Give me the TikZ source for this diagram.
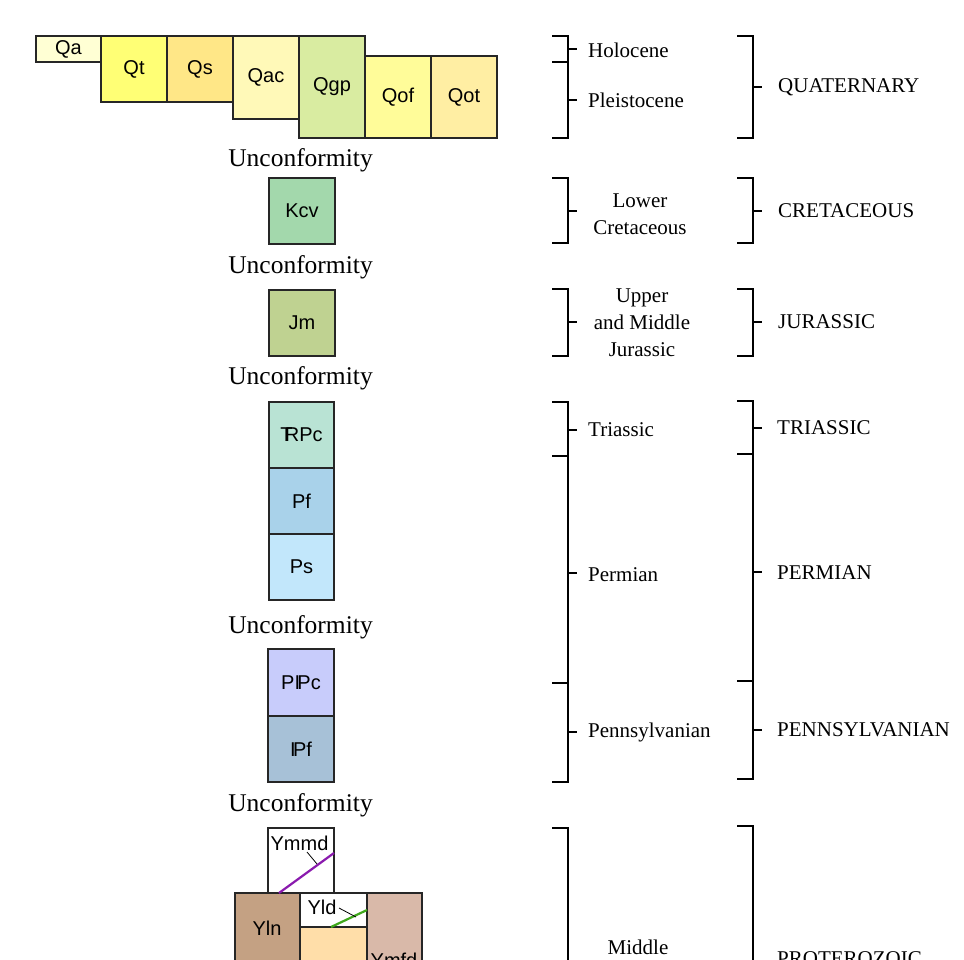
\documentclass[tikz,border=0pt]{standalone}
\usepackage{fontspec}
\setmainfont{Liberation Serif}
\newfontfamily\arialfont{Liberation Sans}

% map unit colours
\definecolor{qacol}{HTML}{FFFFD4}
\definecolor{qtcol}{HTML}{FFFF75}
\definecolor{qscol}{HTML}{FFE787}
\definecolor{qaccol}{HTML}{FFF9B8}
\definecolor{qgpcol}{HTML}{D9ECA1}
\definecolor{qofcol}{HTML}{FFFC99}
\definecolor{qotcol}{HTML}{FFEEA3}
\definecolor{kcvcol}{HTML}{A3D8AC}
\definecolor{jmcol}{HTML}{BFD291}
\definecolor{trpccol}{HTML}{B9E3D4}
\definecolor{pfcol}{HTML}{A9D2EA}
\definecolor{pscol}{HTML}{C2E7FB}
\definecolor{ppccol}{HTML}{C8CCFB}
\definecolor{ipfcol}{HTML}{A7C1D7}
\definecolor{ylncol}{HTML}{C4A183}
\definecolor{ylowcol}{HTML}{FFDEA9}
\definecolor{ymfdcol}{HTML}{D9B9A9}
\definecolor{dikeviolet}{HTML}{8A1AAE}
\definecolor{dikegreen}{HTML}{3FA81C}

% age symbols
\newcommand{\trsym}{T\kern-0.38em R}
\newcommand{\ipsym}{I\kern-0.13em P}

\tikzset{
  unit/.style={draw=black!85, line width=1.1pt, inner sep=0pt,
    font=\arialfont\fontsize{20}{24}\selectfont},
  unitlabel/.style={inner sep=0pt, font=\arialfont\fontsize{20}{24}\selectfont},
  uncon/.style={inner sep=0pt, font=\fontsize{25.5}{30}\selectfont},
  epoch/.style={inner sep=0pt, font=\fontsize{21}{27}\selectfont},
  brk/.style={line width=1.3pt},
  contact/.style={line width=2.2pt}
}

\begin{document}
\begin{tikzpicture}[x=1pt, y=-1pt]
\useasboundingbox (0,0) rectangle (964,959);
\clip (0,0) rectangle (964,959);

% Quaternary units
\node[unit, fill=qacol, minimum width=65pt, minimum height=26pt] (qa) at (68.5,49) {Qa};
\node[unit, fill=qtcol, minimum width=66pt, minimum height=66pt] (qt) at (134,69) {Qt};
\node[unit, fill=qscol, minimum width=66pt, minimum height=66pt] (qs) at (200,69) {Qs};
\node[unit, fill=qaccol, minimum width=66pt, minimum height=83pt] (qac) at (266,77.5) {Qac};
\node[unit, fill=qgpcol, minimum width=66pt, minimum height=102pt] (qgp) at (332,87) {Qgp};
\node[unit, fill=qofcol, minimum width=66pt, minimum height=82pt] (qof) at (398,97) {Qof};
\node[unit, fill=qotcol, minimum width=66pt, minimum height=82pt] (qot) at (464,97) {Qot};

\node[uncon] (uc1) at (300.5,160) {Unconformity};

% Cretaceous and Jurassic
\node[unit, fill=kcvcol, minimum width=66pt, minimum height=66pt] (kcv) at (302,211) {Kcv};
\node[uncon] (uc2) at (300.5,267) {Unconformity};
\node[unit, fill=jmcol, minimum width=66pt, minimum height=66pt] (jm) at (302,323) {Jm};
\node[uncon] (uc3) at (300.5,378) {Unconformity};

% Triassic and Permian
\node[unit, fill=trpccol, minimum width=65pt, minimum height=66pt] (trpc) at (301.5,435) {\trsym Pc};
\node[unit, fill=pfcol, minimum width=65pt, minimum height=66pt] (pf) at (301.5,501) {Pf};
\node[unit, fill=pscol, minimum width=65pt, minimum height=66pt] (ps) at (301.5,567) {Ps};
\node[uncon] (uc4) at (300.5,627) {Unconformity};

% Pennsylvanian
\node[unit, fill=ppccol, minimum width=66pt, minimum height=67pt] (ppc) at (301,682.5) {P\ipsym c};
\node[unit, fill=ipfcol, minimum width=66pt, minimum height=66pt] (ipf) at (301,749) {\ipsym f};
\node[uncon] (uc5) at (300.5,805) {Unconformity};

% Middle Proterozoic
\node[unit, fill=white, minimum width=66pt, minimum height=65pt] (ymmd) at (301,860.5) {};
\node[unit, fill=ylncol, minimum width=65pt, minimum height=107pt] (yln) at (267.5,946.5) {};
\node[unit, fill=white, minimum width=67pt, minimum height=34pt] (yld) at (333.5,910) {};
\node[unit, fill=ylowcol, minimum width=67pt, minimum height=73pt] (ylow) at (333.5,963.5) {};
\node[unit, fill=ymfdcol, minimum width=55pt, minimum height=107pt] (ymfd) at (394.5,946.5) {};
\draw[contact, dikeviolet] (279,893) -- (334,853);
\draw[contact, dikegreen] (331,927) -- (367,910);
\node[unitlabel] (ymmdlab) at (299.5,843) {Ymmd};
\node[unitlabel] (ylnlab) at (267,928) {Yln};
\node[unitlabel] (yldlab) at (322,907) {Yld};
\node[unitlabel] (ymfdlab) at (394,960) {Ymfd};
\coordinate (ymmdfoot) at (307,852);
\coordinate (ymmdtip) at (317,864);
\coordinate (yldfoot) at (339,908);
\coordinate (yldtip) at (356,917);
\draw[line width=0.8pt] (ymmdfoot) -- (ymmdtip);
\draw[line width=0.8pt] (yldfoot) -- (yldtip);

% epoch brackets
\draw[brk] (552,36) -| (568,138) -- (552,138);
\draw[brk] (552,62) -- (568,62);
\draw[brk] (568,49) -- (577,49);
\draw[brk] (568,100) -- (577,100);
\draw[brk] (552,178) -| (568,243) -- (552,243);
\draw[brk] (568,211) -- (577,211);
\draw[brk] (552,289) -| (568,356) -- (552,356);
\draw[brk] (568,322) -- (577,322);
\draw[brk] (552,402) -| (568,782) -- (552,782);
\draw[brk] (552,456) -- (568,456);
\draw[brk] (552,683) -- (568,683);
\draw[brk] (568,430) -- (577,430);
\draw[brk] (568,573) -- (577,573);
\draw[brk] (568,732) -- (577,732);
\draw[brk] (552,828) -| (568,1000);

\node[epoch, anchor=west] (holo) at (588,50) {Holocene};
\node[epoch, anchor=west] (pleist) at (588,100) {Pleistocene};
\node[epoch, align=center] (lcret) at (640,214) {Lower\\Cretaceous};
\node[epoch, align=center] (umjur) at (642,323) {Upper\\and Middle\\Jurassic};
\node[epoch, anchor=west] (trias) at (588,430) {Triassic};
\node[epoch, anchor=west] (perm) at (588,575) {Permian};
\node[epoch, anchor=west] (penn) at (588,732) {Pennsylvanian};
\node[epoch] (midprot) at (638,947) {Middle};

% period brackets
\draw[brk] (737,36) -| (753,138) -- (737,138);
\draw[brk] (753,87) -- (762,87);
\draw[brk] (737,178) -| (753,243) -- (737,243);
\draw[brk] (753,211) -- (762,211);
\draw[brk] (737,289) -| (753,356) -- (737,356);
\draw[brk] (753,322) -- (762,322);
\draw[brk] (737,401) -| (753,779) -- (737,779);
\draw[brk] (737,454) -- (753,454);
\draw[brk] (737,681) -- (753,681);
\draw[brk] (753,428) -- (762,428);
\draw[brk] (753,572) -- (762,572);
\draw[brk] (753,730) -- (762,730);
\draw[brk] (737,826) -| (753,1000);

\node[epoch, anchor=west] (quat) at (778,87) {QUATERNARY};
\node[epoch, anchor=west] (cret) at (778,211) {CRETACEOUS};
\node[epoch, anchor=west] (jur) at (778,322) {JURASSIC};
\node[epoch, anchor=west] (tri) at (777,428) {TRIASSIC};
\node[epoch, anchor=west] (per) at (777,573) {PERMIAN};
\node[epoch, anchor=west] (pen) at (777,730) {PENNSYLVANIAN};
\node[epoch, anchor=west] (prot) at (777,959) {PROTEROZOIC};
\end{tikzpicture}
\end{document}
